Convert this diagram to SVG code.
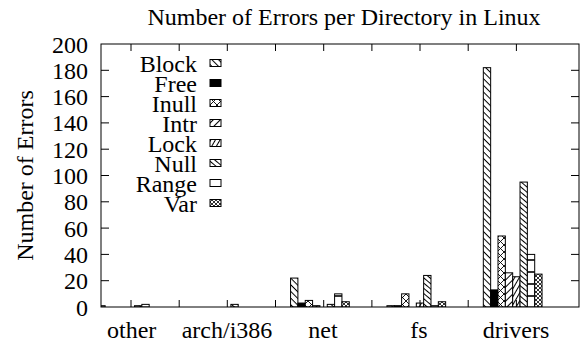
<svg xmlns="http://www.w3.org/2000/svg" width="584" height="343" viewBox="0 0 584 343" font-family="'Liberation Serif', 'Times New Roman', serif">
<style>
text{font-family:'Liberation Serif','Times New Roman',serif;font-size:24px;fill:#000}
.tl{text-anchor:end}
.xl{text-anchor:middle}
.bar{stroke:#000;stroke-width:1}
.ax{stroke:#000;stroke-width:1;fill:none}
</style>
<defs>
<pattern id="pBlock" patternUnits="userSpaceOnUse" width="4.7" height="4.7" patternTransform="rotate(45)"><rect width="4.7" height="4.7" fill="#fff"/><line x1="0" y1="0.5" x2="4.7" y2="0.5" stroke="#000" stroke-width="1"/></pattern>
<pattern id="pInull" patternUnits="userSpaceOnUse" width="7" height="7"><rect width="7" height="7" fill="#fff"/><path d="M0,0L7,7M7,0L0,7" stroke="#000" stroke-width="0.9"/></pattern>
<pattern id="pIntr" patternUnits="userSpaceOnUse" width="5" height="5" patternTransform="rotate(-45)"><rect width="5" height="5" fill="#fff"/><line x1="0" y1="0.5" x2="5" y2="0.5" stroke="#000" stroke-width="1"/></pattern>
<pattern id="pLock" patternUnits="userSpaceOnUse" width="4" height="4" patternTransform="rotate(-60)"><rect width="4" height="4" fill="#fff"/><line x1="0" y1="0.5" x2="4" y2="0.5" stroke="#000" stroke-width="1"/></pattern>
<pattern id="pNull" patternUnits="userSpaceOnUse" width="4" height="4" patternTransform="rotate(40)"><rect width="4" height="4" fill="#fff"/><line x1="0" y1="0.5" x2="4" y2="0.5" stroke="#000" stroke-width="1"/></pattern>
<pattern id="pRange" patternUnits="userSpaceOnUse" width="8" height="12" y="-5"><rect width="8" height="12" fill="#fff"/><line x1="0" y1="1" x2="8" y2="1" stroke="#000" stroke-width="1.6"/></pattern>
<pattern id="pVar" patternUnits="userSpaceOnUse" width="4" height="4"><rect width="4" height="4" fill="#fff"/><path d="M0,0L4,4M4,0L0,4" stroke="#000" stroke-width="0.8"/></pattern>
<clipPath id="plotClip"><rect x="101" y="44" width="478" height="263"/></clipPath>
</defs>

<text x="344" y="25" class="xl" font-family="'Liberation Serif', serif">Number of Errors per Directory in Linux</text>

<g id="bars" clip-path="url(#plotClip)">
<g id="cat-other">
<rect class="bar" x="97.8" y="305.7" width="7.34" height="1.3" fill="url(#pBlock)"/>
<rect class="bar" x="134.5" y="305.7" width="7.34" height="1.3" fill="url(#pNull)"/>
<rect class="bar" x="141.84" y="304.37" width="7.34" height="2.63" fill="url(#pRange)" stroke-width="1.5"/>
</g>
<g id="cat-arch">
<rect class="bar" x="230.88" y="304.37" width="7.34" height="2.63" fill="url(#pNull)"/>
</g>
<g id="cat-net">
<rect class="bar" x="290.56" y="278.07" width="7.34" height="28.93" fill="url(#pBlock)"/>
<rect class="bar" x="297.9" y="303.05" width="7.34" height="3.95" fill="#000"/>
<rect class="bar" x="305.24" y="300.42" width="7.34" height="6.58" fill="url(#pInull)"/>
<rect class="bar" x="312.58" y="305.69" width="7.34" height="1.31" fill="url(#pIntr)"/>
<rect class="bar" x="327.26" y="304.37" width="7.34" height="2.63" fill="url(#pNull)"/>
<rect class="bar" x="334.6" y="293.85" width="7.34" height="13.15" fill="url(#pRange)" stroke-width="1.5"/>
<rect class="bar" x="341.94" y="301.74" width="7.34" height="5.26" fill="url(#pVar)"/>
</g>
<g id="cat-fs">
<rect class="bar" x="386.94" y="305.69" width="7.34" height="1.31" fill="url(#pBlock)"/>
<rect class="bar" x="394.28" y="305.69" width="7.34" height="1.31" fill="#000"/>
<rect class="bar" x="401.62" y="293.85" width="7.34" height="13.15" fill="url(#pInull)"/>
<rect class="bar" x="416.3" y="303.05" width="7.34" height="3.95" fill="url(#pLock)"/>
<rect class="bar" x="423.64" y="275.44" width="7.34" height="31.56" fill="url(#pNull)"/>
<rect class="bar" x="430.98" y="305.69" width="7.34" height="1.31" fill="url(#pRange)" stroke-width="1.5"/>
<rect class="bar" x="438.32" y="301.74" width="7.34" height="5.26" fill="url(#pVar)"/>
</g>
<g id="cat-drivers">
<rect class="bar" x="483.32" y="67.67" width="7.34" height="239.33" fill="url(#pBlock)"/>
<rect class="bar" x="490.66" y="289.9" width="7.34" height="17.1" fill="#000"/>
<rect class="bar" x="498" y="235.99" width="7.34" height="71.01" fill="url(#pInull)"/>
<rect class="bar" x="505.34" y="272.81" width="7.34" height="34.19" fill="url(#pIntr)"/>
<rect class="bar" x="512.68" y="276.75" width="7.34" height="30.25" fill="url(#pLock)"/>
<rect class="bar" x="520.02" y="182.07" width="7.34" height="124.93" fill="url(#pNull)"/>
<rect class="bar" x="527.36" y="254.4" width="7.34" height="52.6" fill="url(#pRange)" stroke-width="1.5"/>
<rect class="bar" x="534.7" y="274.12" width="7.34" height="32.88" fill="url(#pVar)"/>
</g>
</g>

<g id="axes">
<rect class="ax" x="101" y="44" width="478" height="263"/>
<path class="ax" d="M101,280.7h8M101,254.4h8M101,228.1h8M101,201.8h8M101,175.5h8M101,149.2h8M101,122.9h8M101,96.6h8M101,70.3h8
M579,280.7h-8M579,254.4h-8M579,228.1h-8M579,201.8h-8M579,175.5h-8M579,149.2h-8M579,122.9h-8M579,96.6h-8M579,70.3h-8
M131,307v-7M179.2,307v-7M227.3,307v-7M275.5,307v-7M323.7,307v-7M371.9,307v-7M420,307v-7M468.2,307v-7M516.4,307v-7
M131,44v7M179.2,44v7M227.3,44v7M275.5,44v7M323.7,44v7M371.9,44v7M420,44v7M468.2,44v7M516.4,44v7"/>
<text class="tl" x="88" y="315.5">0</text>
<text class="tl" x="88" y="289.2">20</text>
<text class="tl" x="88" y="262.9">40</text>
<text class="tl" x="88" y="236.6">60</text>
<text class="tl" x="88" y="210.3">80</text>
<text class="tl" x="88" y="184">100</text>
<text class="tl" x="88" y="157.7">120</text>
<text class="tl" x="88" y="131.4">140</text>
<text class="tl" x="88" y="105.1">160</text>
<text class="tl" x="88" y="78.8">180</text>
<text class="tl" x="88" y="52.5">200</text>
<text class="xl" x="131.7" y="338">other</text>
<text class="xl" x="227" y="338">arch/i386</text>
<text class="xl" x="323" y="338">net</text>
<text class="xl" x="419" y="338">fs</text>
<text class="xl" x="516" y="338">drivers</text>
<text class="xl" transform="translate(33,175.5) rotate(-90)" font-size="22">Number of Errors</text>
</g>

<g id="legend">
<text class="tl" x="197" y="71.5">Block</text>
<rect class="bar" x="210" y="59.5" width="11" height="7" fill="url(#pBlock)"/>
<text class="tl" x="197" y="91.5">Free</text>
<rect class="bar" x="210" y="79.5" width="11" height="7" fill="#000"/>
<text class="tl" x="197" y="111.5">Inull</text>
<rect class="bar" x="210" y="99.5" width="11" height="7" fill="url(#pInull)"/>
<text class="tl" x="197" y="131.5">Intr</text>
<rect class="bar" x="210" y="119.5" width="11" height="7" fill="url(#pIntr)"/>
<text class="tl" x="197" y="151.5">Lock</text>
<rect class="bar" x="210" y="139.5" width="11" height="7" fill="url(#pLock)"/>
<text class="tl" x="197" y="171.5">Null</text>
<rect class="bar" x="210" y="159.5" width="11" height="7" fill="url(#pNull)"/>
<text class="tl" x="197" y="191.5">Range</text>
<rect class="bar" x="210" y="179.5" width="11" height="7" fill="#fff" stroke-width="1.5"/>
<text class="tl" x="197" y="211.5">Var</text>
<rect class="bar" x="210" y="199.5" width="11" height="7" fill="url(#pVar)"/>
</g>
</svg>
